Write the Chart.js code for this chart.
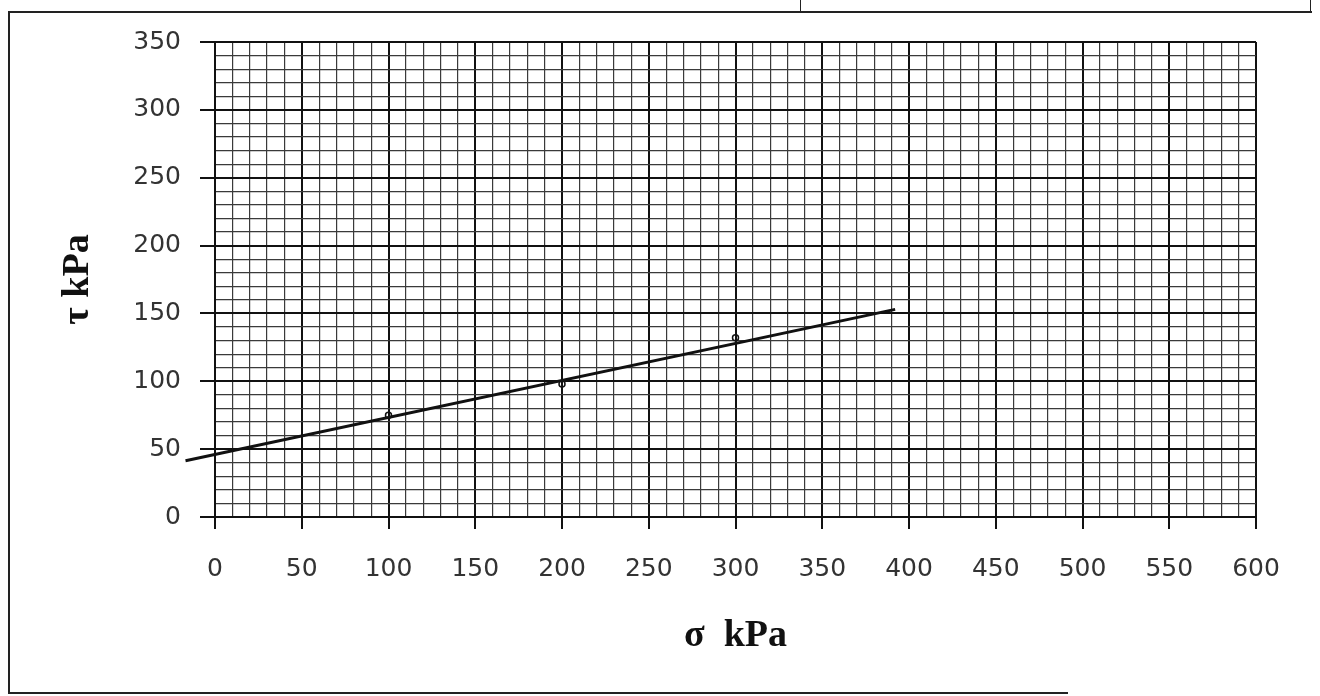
<!DOCTYPE html>
<html>
<head>
<meta charset="utf-8">
<title>τ – σ</title>
<script src="https://cdn.jsdelivr.net/npm/chart.js@4/dist/chart.umd.min.js"></script>
<style>
  html, body { margin: 0; padding: 0; background: #fff; }
  #wrap { position: relative; width: 1320px; height: 696px; overflow: hidden; }
  #chart { position: absolute; left: 0; top: 0; }
  .rule { position: absolute; background: #222; }
</style>
</head>
<body>
<div id="wrap">
  <canvas id="chart" width="1320" height="696"></canvas>
  <!-- scanned page frame -->
  <div class="rule" style="left:8px; top:11px; width:1304px; height:2px;"></div>
  <div class="rule" style="left:8px; top:11px; width:2px; height:682px;"></div>
  <div class="rule" style="left:8px; top:692px; width:1060px; height:2px;"></div>
  <div class="rule" style="left:800px; top:0; width:1px; height:12px;"></div>
  <div class="rule" style="left:1310px; top:0; width:1px; height:12px;"></div>
</div>
<script>
"use strict";

// ---------------- data ----------------
const sigmaTest = [100, 200, 300];       // normal stress, kPa
const tauTest = [75, 98, 132];           // shear stress, kPa
const fitSigma = [-17, 392];             // drawn failure envelope
const fitTau = [41.5, 153];
const xRange = [0, 600];
const yRange = [0, 350];
const majorStep = 50;
const minorStep = 10;

const isMajor = (ctx) => ctx.tick && Math.round(ctx.tick.value) % majorStep === 0;
const ink = "#111";
const minorDash = [5, 3];

const grid = (tickLength) => ({
  color: (c) => (isMajor(c) ? ink : "#3a3a3a"),
  lineWidth: (c) => (isMajor(c) ? 2 : 1.2),
  borderDash: (c) => (isMajor(c) ? [] : minorDash),
  dash: (c) => (isMajor(c) ? [] : minorDash),
  tickLength,
  tickColor: (c) => (isMajor(c) ? ink : "rgba(0,0,0,0)"),
  tickWidth: 2,
});

const tickFont = { family: "DejaVu Sans", size: 25 };
const titleFont = { family: "Liberation Serif", size: 38, weight: "bold" };
const majorLabel = (v) => (Math.round(v) % majorStep === 0 ? String(v) : "");

new Chart(document.getElementById("chart"), {
  data: {
    datasets: [
      {
        type: "line",
        data: fitSigma.map((s, i) => ({ x: s, y: fitTau[i] })),
        borderColor: ink, borderWidth: 3, pointRadius: 0, clip: false, tension: 0,
      },
      {
        type: "scatter",
        data: sigmaTest.map((s, i) => ({ x: s, y: tauTest[i] })),
        borderColor: ink, backgroundColor: "rgba(0,0,0,0)", borderWidth: 1.5,
        pointStyle: "circle", pointRadius: 3,
      },
    ],
  },
  options: {
    responsive: false, animation: false,
    layout: { padding: { left: 30, top: 42, right: 64, bottom: 20 } },
    plugins: { legend: { display: false }, tooltip: { enabled: false } },
    scales: {
      x: {
        type: "linear", min: xRange[0], max: xRange[1],
        afterFit: (s) => { s.height = 696 - 20 - 517; },
        ticks: {
          stepSize: minorStep, autoSkip: false, maxRotation: 0, padding: 25,
          color: "#333", font: tickFont, callback: majorLabel,
        },
        grid: grid(12),
        border: { display: true, color: ink, width: 2 },
        title: { display: true, text: "σ  kPa", color: "#111", font: titleFont, padding: { top: 0, bottom: 17 } },
      },
      y: {
        type: "linear", min: yRange[0], max: yRange[1],
        afterFit: (s) => { s.width = 215 - 30; },
        ticks: {
          stepSize: minorStep, autoSkip: false, padding: 19,
          color: "#333", font: tickFont, callback: majorLabel,
        },
        grid: grid(15),
        border: { display: true, color: ink, width: 2 },
        title: { display: true, text: "τ kPa", color: "#111", font: titleFont, padding: { top: 25, bottom: 0 } },
      },
    },
  },
});
</script>
</body>
</html>
